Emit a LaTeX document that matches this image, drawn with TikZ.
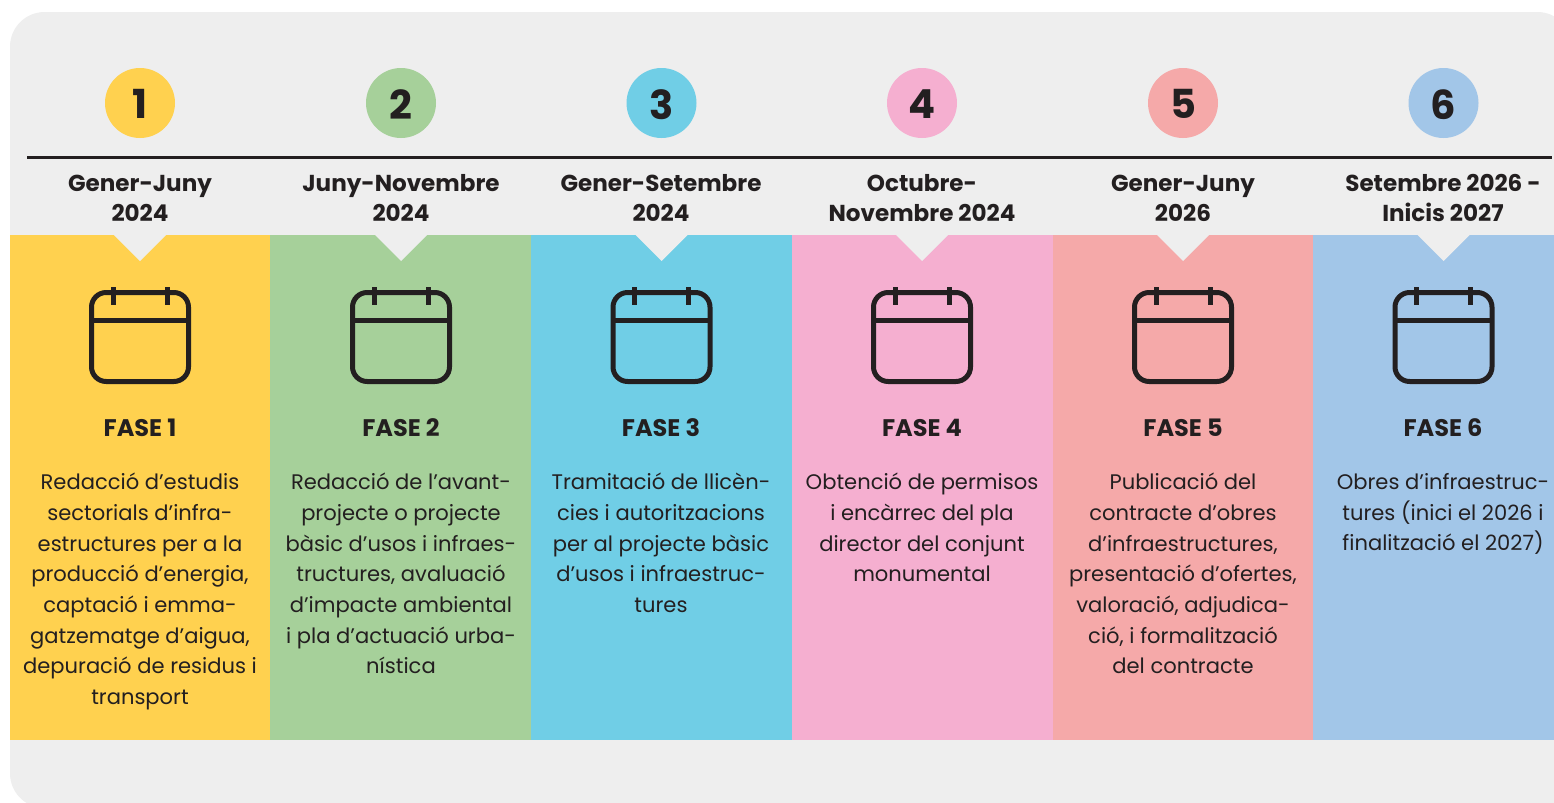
\documentclass[tikz,border=0pt]{standalone}
\usepackage{fontspec}
\setmainfont{Poppins}
\newfontfamily\headf{Poppins}[UprightFont=* Bold,BoldFont=* Bold]
\definecolor{bg}{HTML}{EEEEEE}
\definecolor{ink}{HTML}{231F20}
\definecolor{cA}{HTML}{FFD14F}
\definecolor{cB}{HTML}{A6D09A}
\definecolor{cC}{HTML}{70CEE6}
\definecolor{cD}{HTML}{F5AFD0}
\definecolor{cE}{HTML}{F5A9A9}
\definecolor{cF}{HTML}{A2C6E8}
\newcommand{\numtxt}[1]{\vphantom{#1}\smash{\raisebox{-0.9pt}{#1}}}
\tikzset{
 x=0.75pt,y=-0.75pt,
 numdot/.style={circle,minimum size=52.5pt,inner sep=0pt,text=ink,font=\headf\fontsize{30}{30}\selectfont},
 datelab/.style={align=center,text=ink,anchor=center,inner sep=0pt,font=\headf\fontsize{17.3}{22.5}\selectfont},
 faselab/.style={text=ink,inner sep=0pt,font=\headf\fontsize{18}{20}\selectfont},
 bodylab/.style={anchor=north,align=center,text=ink,inner sep=0pt,font=\fontsize{15.8}{23}\selectfont},
 cal/.style={draw=ink,line width=3.75pt,line cap=round,line join=round},
}
\newcommand{\calicon}[1]{%
 \draw[cal,rounded corners=11pt] (#1-48.5,292.5) rectangle (#1+48.5,381.5);
 \draw[cal,line cap=butt] (#1-48.5,320.5) -- (#1+48.5,320.5);
 \draw[cal,line cap=butt] (#1-27,287) -- (#1-27,305);
 \draw[cal,line cap=butt] (#1+27,287) -- (#1+27,305);
}
\begin{document}
\begin{tikzpicture}
\useasboundingbox (0,0) rectangle (1554,803);
\clip (0,0) rectangle (1554,803);
\fill[white] (0,0) rectangle (1554,803);
\fill[bg,rounded corners=26pt] (10,12) rectangle (1572,808);
\foreach \xa/\xb/\xc/\c in {10/270/140/cA,270/531/401/cB,531/792/661.5/cC,792/1053/922/cD,1053/1313/1183/cE,1313/1560/1443.5/cF}{
 \fill[\c] (\xa,235) rectangle (\xb,740);
 \fill[bg] (\xc-26,235) -- (\xc+26,235) -- (\xc,261) -- cycle;
 \calicon{\xc}
}
\coordinate (rl) at (27,157.5);
\coordinate (rr) at (1552,157.5);
\draw[ink,line width=2.25pt] (rl) -- (rr);
\node[numdot,fill=cA] (n1) at (140,103) {\numtxt{1}};
\node[numdot,fill=cB] (n2) at (401,103) {\numtxt{2}};
\node[numdot,fill=cC] (n3) at (661.5,103) {\numtxt{3}};
\node[numdot,fill=cD] (n4) at (922,103) {\numtxt{4}};
\node[numdot,fill=cE] (n5) at (1183,103) {\numtxt{5}};
\node[numdot,fill=cF] (n6) at (1443.5,103) {\numtxt{6}};
\node[datelab] (d1) at (140,200.5) {\strut Gener-Juny\\2024\strut};
\node[datelab] (d2) at (401,200.5) {\strut Juny-Novembre\\2024\strut};
\node[datelab] (d3) at (661,200.5) {\strut Gener-Setembre\\2024\strut};
\node[datelab] (d4) at (922,200.5) {\strut Octubre-\\Novembre 2024\strut};
\node[datelab] (d5) at (1183,200.5) {\strut Gener-Juny\\2026\strut};
\node[datelab] (d6) at (1443,200.5) {\strut Setembre 2026 -\\Inicis 2027\strut};
\node[faselab] (f1) at (140,427.5) {FASE 1};
\node[faselab] (f2) at (401,427.5) {FASE 2};
\node[faselab] (f3) at (661,427.5) {FASE 3};
\node[faselab] (f4) at (922,427.5) {FASE 4};
\node[faselab] (f5) at (1183,427.5) {FASE 5};
\node[faselab] (f6) at (1443,427.5) {FASE 6};
\node[bodylab] (b1) at (140,473) {Redacció d’estudis\\sectorials d’infra-\\estructures per a la\\producció d’energia,\\captació i emma-\\gatzematge d’aigua,\\depuració de residus i\\transport};
\node[bodylab] (b2) at (401,473) {Redacció de l’avant-\\projecte o projecte\\bàsic d’usos i infraes-\\tructures, avaluació\\d’impacte ambiental\\i pla d’actuació urba-\\nística};
\node[bodylab] (b3) at (661,473) {Tramitació de llicèn-\\cies i autoritzacions\\per al projecte bàsic\\d’usos i infraestruc-\\tures};
\node[bodylab] (b4) at (922,473) {Obtenció de permisos\\i encàrrec del pla\\director del conjunt\\monumental};
\node[bodylab] (b5) at (1183,473) {Publicació del\\contracte d’obres\\d’infraestructures,\\presentació d’ofertes,\\valoració, adjudica-\\ció, i formalització\\del contracte};
\node[bodylab] (b6) at (1443,473) {Obres d’infraestruc-\\tures (inici el 2026 i\\finalització el 2027)};
\end{tikzpicture}
\end{document}
